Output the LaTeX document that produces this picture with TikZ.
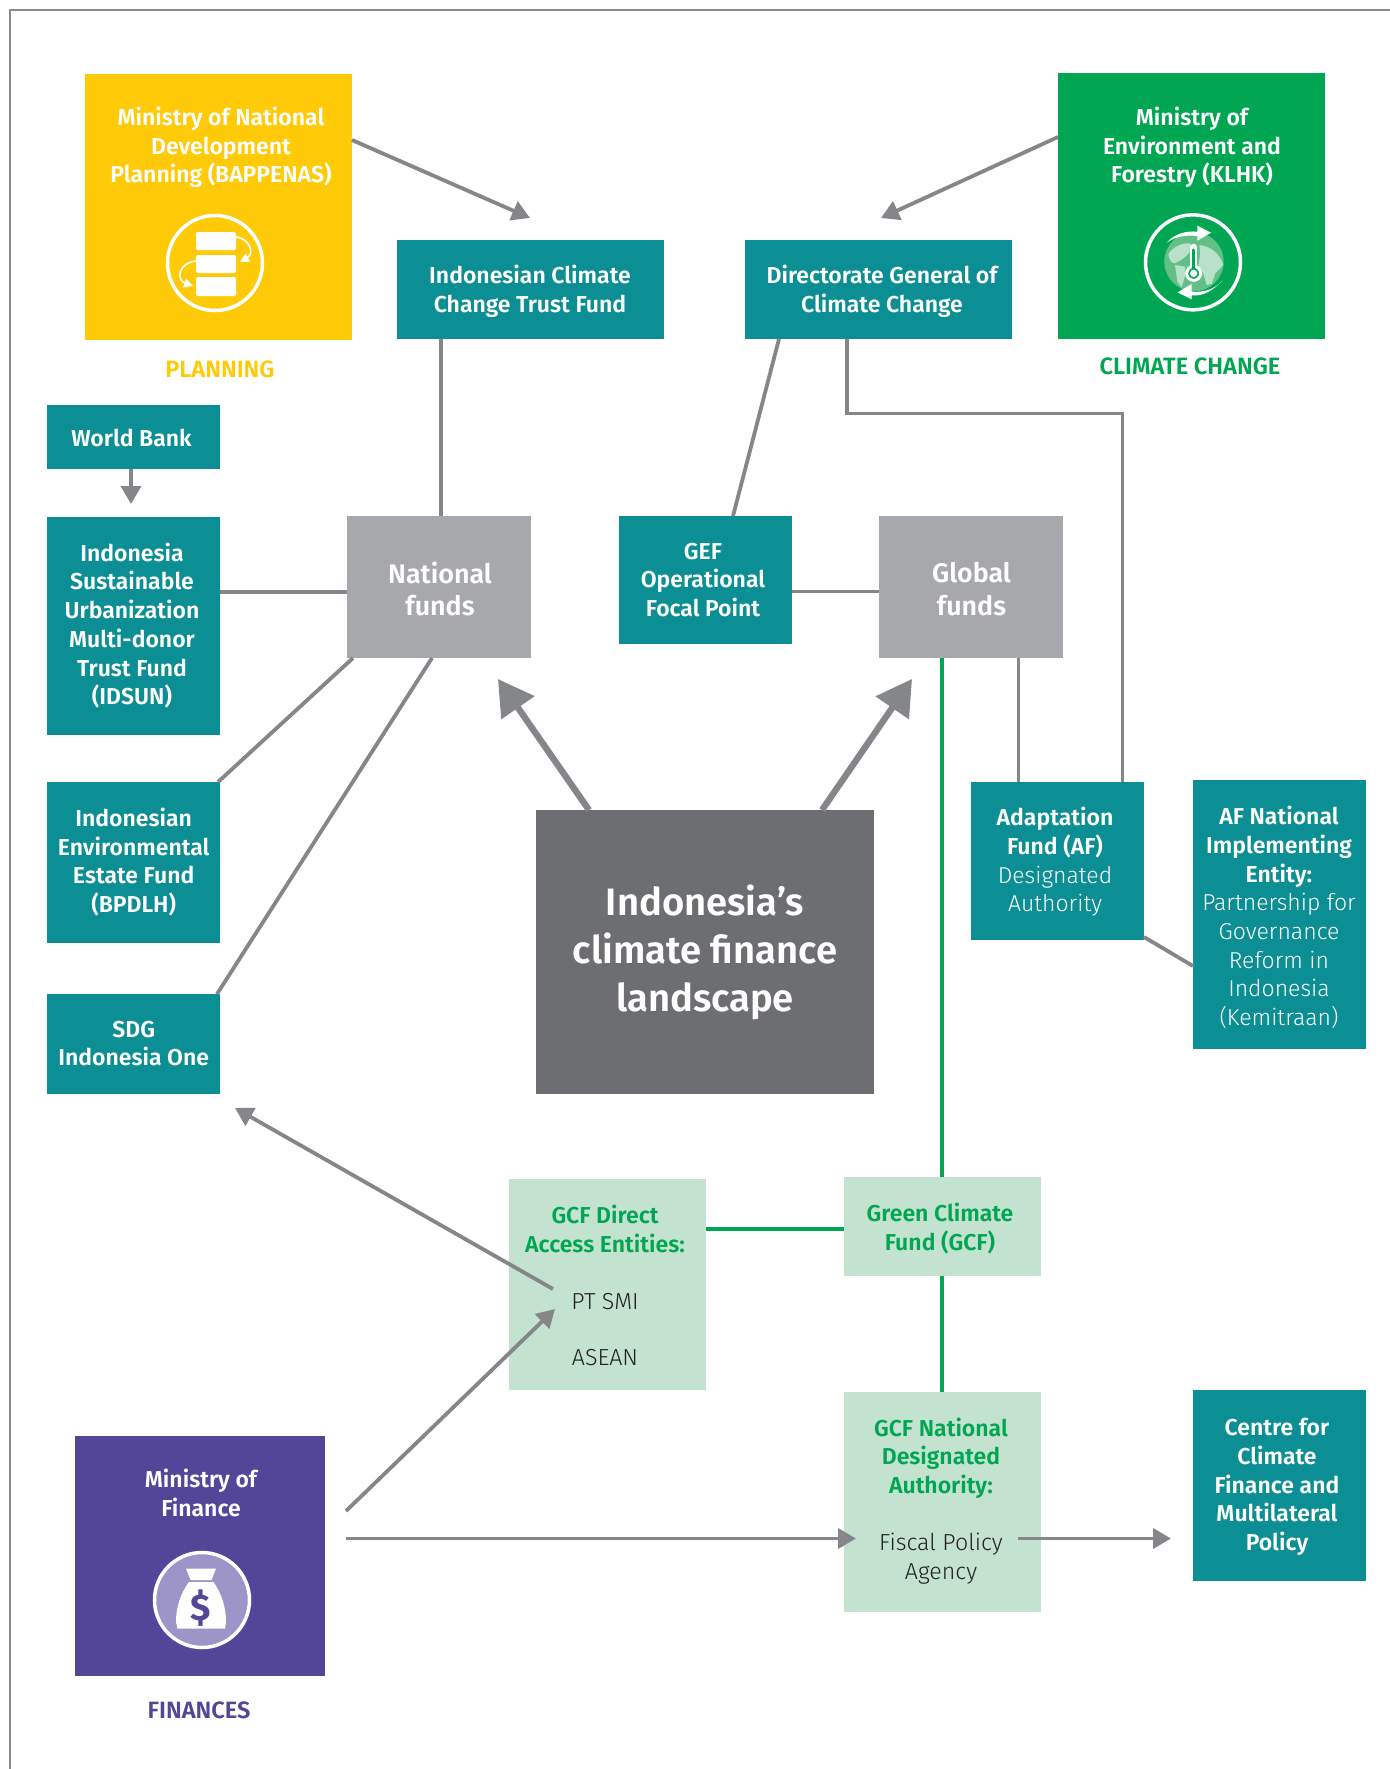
\documentclass[tikz,border=0pt]{standalone}
\usepackage{fontspec}
\setmainfont{Fira Sans}
\newfontfamily\fsb{Fira Sans SemiBold}
\newfontfamily\fsl{Fira Sans Light}
\usetikzlibrary{arrows.meta,calc}
\definecolor{yel}{HTML}{FFCB08}
\definecolor{grn}{HTML}{00A651}
\definecolor{pur}{HTML}{534699}
\definecolor{lav}{HTML}{9D94C8}
\definecolor{teal}{HTML}{0B8F94}
\definecolor{gbox}{HTML}{A7A8AB}
\definecolor{dbox}{HTML}{6D6E71}
\definecolor{cnc}{HTML}{85868A}
\definecolor{lgrn}{HTML}{C3E2D0}
\definecolor{frm}{HTML}{8A8A8A}
\definecolor{ink}{HTML}{231F20}
\definecolor{globe}{HTML}{62BF88}
\definecolor{land}{HTML}{B8E1C9}
\tikzset{
  x=0.5pt,y=-0.5pt,
  bx/.style={rectangle,inner sep=0pt,outer sep=0pt,draw=none},
  tl/.style={align=center,inner sep=0pt,outer sep=0pt,text=white,font=\fsb\fontsize{11.5}{14.35}\selectfont},
  tlg/.style={tl,text=grn},
  tb/.style={align=center,inner sep=0pt,outer sep=0pt,text=ink,font=\fsl\fontsize{11.6}{14.35}\selectfont},
  captxt/.style={inner sep=0pt,outer sep=0pt,font=\fsb\fontsize{11.8}{14}\selectfont},
  cn/.style={draw=cnc,line width=1.9pt},
  gl/.style={draw=grn,line width=1.9pt},
  ar/.style={cn,-{Triangle[length=9pt,width=10pt]}},
  big/.style={draw=cnc,line width=3.2pt,-{Triangle[length=17.5pt,width=19.5pt]}},
  ic/.style={draw=white,line width=1.75pt},
}
\newcommand{\bxn}[6]{%
  \pgfmathsetmacro{\bw}{(#5-#3)*0.5}\pgfmathsetmacro{\bh}{(#6-#4)*0.5}%
  \pgfmathsetmacro{\bcx}{(#3+#5)/2}\pgfmathsetmacro{\bcy}{(#4+#6)/2}%
  \node[bx,fill=#1,minimum width=\bw pt,minimum height=\bh pt] (#2) at (\bcx,\bcy) {};}
\begin{document}
\begin{tikzpicture}
\useasboundingbox (0,0) rectangle (1390,1769);
\fill[white] (0,0) rectangle (1390,1769);
% frame
\coordinate (frameA) at (10,1769);\coordinate (frameB) at (10,10);\coordinate (frameC) at (1390,10);
\draw[draw=frm,line width=1pt] (frameA) -- (frameB) -- (frameC);
% boxes
\bxn{yel}{yelb}{85}{74}{352}{340}
\bxn{grn}{grnb}{1058}{73}{1325}{339}
\bxn{pur}{purb}{75}{1436}{325}{1676}
\bxn{teal}{ictf}{397}{240}{664}{339}
\bxn{teal}{dgcc}{745}{240}{1012}{339}
\bxn{teal}{wb}{47}{405}{220}{469}
\bxn{teal}{idsun}{47}{517}{220}{735}
\bxn{gbox}{natf}{347}{516}{531}{658}
\bxn{teal}{gef}{619}{516}{792}{644}
\bxn{gbox}{glof}{879}{516}{1063}{658}
\bxn{teal}{bpdlh}{47}{782}{220}{943}
\bxn{teal}{sdg}{47}{994}{220}{1094}
\bxn{teal}{adapt}{971}{782}{1144}{940}
\bxn{teal}{nie}{1193}{780}{1366}{1049}
\bxn{dbox}{core}{536}{810}{874}{1094}
\bxn{lgrn}{dae}{509}{1179}{706}{1390}
\bxn{lgrn}{gcf}{844}{1177}{1041}{1276}
\bxn{lgrn}{nda}{844}{1392}{1041}{1612}
\bxn{teal}{ccf}{1193}{1390}{1366}{1581}
% helper coordinates fixing where connectors meet the box edges
\coordinate (xa) at (441,0);\coordinate (xb) at (779,0);\coordinate (xc) at (733,0);
\coordinate (xd) at (847,0);\coordinate (xe) at (1122.5,0);\coordinate (xf) at (1018.5,0);
\coordinate (xg) at (942,0);\coordinate (xh) at (353,0);\coordinate (xi) at (218,0);
\coordinate (xj) at (432,0);\coordinate (xk) at (217,0);\coordinate (xl) at (589,0);
\coordinate (xm) at (822,0);
\coordinate (ya) at (0,592);\coordinate (yb) at (0,591.5);\coordinate (yc) at (0,1229);
\coordinate (yd) at (0,140);\coordinate (ye) at (0,137);\coordinate (yf) at (0,937);\coordinate (yg) at (0,966);
\coordinate (bendA) at (847,413.5);\coordinate (bendB) at (1122.5,413.5);
% connectors
\draw[cn] (ictf.south -| xa) -- (natf.north -| xa);
\draw[cn] (dgcc.south -| xb) -- (gef.north -| xc);
\draw[cn] (dgcc.south -| xd) -- (bendA) -- (bendB) -- (adapt.north -| xe);
\draw[cn] (glof.south -| xf) -- (adapt.north -| xf);
\draw[cn] (idsun.east |- ya) -- (natf.west |- ya);
\draw[cn] (gef.east |- yb) -- (glof.west |- yb);
\draw[cn] (natf.south -| xh) -- (bpdlh.north -| xi);
\draw[cn] (natf.south -| xj) -- (sdg.north -| xk);
\draw[cn] (adapt.east |- yf) -- (nie.west |- yg);
\draw[gl] (glof.south -| xg) -- (gcf.north -| xg);
\draw[gl] (gcf.south -| xg) -- (nda.north -| xg);
\draw[gl] (dae.east |- yc) -- (gcf.west |- yc);
% arrows
\coordinate (t1) at (530,218);\coordinate (t2) at (881,218);\coordinate (t3) at (131,504);
\coordinate (t4) at (498,679);\coordinate (t5) at (912,679);\coordinate (t6) at (235,1108);
\coordinate (s6) at (553,1289);\coordinate (s7) at (346,1511);\coordinate (t7) at (555,1309);
\coordinate (s8) at (346,1538.5);\coordinate (t8) at (856,1538.5);
\coordinate (s9) at (1018,1538.5);\coordinate (t9) at (1171,1538.5);
\draw[ar] (yelb.east |- yd) -- (t1);
\draw[ar] (grnb.west |- ye) -- (t2);
\draw[ar] (wb.south -| t3) -- (t3);
\draw[big] (core.north -| xl) -- (t4);
\draw[big] (core.north -| xm) -- (t5);
\draw[ar] (s6) -- (t6);
\draw[ar] (s7) -- (t7);
\draw[ar] (s8) -- (t8);
\draw[ar] (s9) -- (t9);
% texts
\node[tl] (yelt) at (221,147.5) {Ministry of National\\Development\\Planning (BAPPENAS)};
\node[tl] (grnt) at (1192,147.5) {Ministry of\\Environment and\\Forestry (KLHK)};
\node[tl] (purt) at (201,1493) {Ministry of\\Finance};
\node[captxt,text=yel] (capy) at (220,369) {PLANNING};
\node[captxt,text=grn] (capg) at (1190,366) {CLIMATE CHANGE};
\node[captxt,text=pur] (capp) at (199,1710) {FINANCES};
\node[tl] (ictft) at (530,291) {Indonesian Climate\\Change Trust Fund};
\node[tl] (dgcct) at (882,291) {Directorate General of\\Climate Change};
\node[tl] (wbt) at (131.5,437.6) {World Bank};
\node[tl] (idsunt) at (132,625.5) {Indonesia\\Sustainable\\Urbanization\\Multi-donor\\Trust Fund\\(IDSUN)};
\node[tl,font=\fsb\fontsize{13.4}{16.4}\selectfont] (natt) at (440,589) {National\\funds};
\node[tl] (geft) at (703,580) {GEF\\Operational\\Focal Point};
\node[tl,font=\fsb\fontsize{13.4}{16.4}\selectfont] (glot) at (971.5,589) {Global\\funds};
\node[tl] (bpdlht) at (133.7,862) {Indonesian\\Environmental\\Estate Fund\\(BPDLH)};
\node[tl] (sdgt) at (133.7,1043.6) {SDG\\Indonesia One};
\node[tl,font=\fsb\fontsize{19.1}{24}\selectfont] (coret) at (705,952) {Indonesia’s\\climate finance\\landscape};
\node[tl] (adaptt) at (1055,862) {Adaptation\\Fund (AF)\\{\fsl Designated}\\{\fsl Authority}};
\node[tl] (niet) at (1279,917.5) {AF National\\Implementing\\Entity:\\{\fsl Partnership for}\\{\fsl Governance}\\{\fsl Reform in}\\{\fsl Indonesia}\\{\fsl (Kemitraan)}};
\node[tlg] (daet) at (605,1229) {GCF Direct\\Access Entities:};
\node[tb] (ptsmi) at (605,1301.5) {PT SMI};
\node[tb] (asean) at (605,1358) {ASEAN};
\node[tlg] (gcft) at (940,1228.5) {Green Climate\\Fund (GCF)};
\node[tlg] (ndat) at (941,1458) {GCF National\\Designated\\Authority:};
\node[tb] (fpa) at (941,1558.5) {Fiscal Policy\\Agency};
\node[tl] (ccft) at (1277,1487) {Centre for\\Climate\\Finance and\\Multilateral\\Policy};
% planning icon
\draw[ic] (215,263) circle (47.5);
\fill[white,rounded corners=1pt] (196,232) rectangle (236,250);
\fill[white,rounded corners=1pt] (196,255) rectangle (236,273);
\fill[white,rounded corners=1pt] (196,277) rectangle (236,296);
\draw[draw=white,line width=0.8pt,-{Triangle[length=4.5pt,width=4.5pt]}] (236,237) .. controls (251,239) and (254,254) .. (240,262);
\draw[draw=white,line width=0.8pt,-{Triangle[length=4.5pt,width=4.5pt]}] (196,261) .. controls (178,263) and (176,280) .. (193,286);
% climate icon (drawn in the coordinates of a 3x crop)
\begin{scope}[shift={(1140,210)},x=0.16667pt,y=-0.16667pt]
\draw[draw=white,line width=1.75pt] (159,157) circle (142.5);
\fill[globe] (162,155) circle (89);
\fill[land] (85,132) .. controls (100,108) and (130,98) .. (152,100) -- (150,125) .. controls (140,140) and (125,150) .. (105,160) .. controls (95,160) and (88,152) .. (85,132) -- cycle;
\fill[land] (105,165) -- (135,170) -- (136,195) -- (125,232) -- (112,215) -- cycle;
\fill[land] (178,105) .. controls (210,108) and (240,130) .. (250,165) -- (226,190) -- (215,222) -- (200,225) -- (190,190) -- (175,165) -- (180,135) -- cycle;
\draw[draw=white,line width=3.6pt,line cap=round] (161,112) -- (161,185);
\draw[draw=white,line width=1.5pt,fill=grn] (161,190) circle (21);
\draw[draw=grn,line width=1.6pt,line cap=round] (161,120) -- (161,180);
\fill[white] (161,190) circle (11);
\fill[white] (80,98) .. controls (105,70) and (140,62) .. (172,65) -- (172,47) -- (213,68) -- (172,92) -- (172,78) .. controls (135,74) and (105,80) .. (80,98) -- cycle;
\fill[white] (247,212) .. controls (222,240) and (187,248) .. (155,245) -- (155,222) -- (113,247) -- (155,268) -- (155,256) .. controls (192,260) and (222,238) .. (247,212) -- cycle;
\end{scope}
% finance icon
\draw[draw=white,fill=lav,line width=1.75pt] (202,1600) circle (47.5);
\fill[white] (186,1568.5) -- (216,1568.5) -- (211.5,1580) -- (190.5,1580) -- cycle;
\fill[white] (189,1582) -- (213.5,1582) .. controls (222,1594) and (226,1608) .. (226,1622) -- (225,1628.5) -- (177.5,1628.5) -- (176,1622) .. controls (176,1608) and (180,1594) .. (189,1582) -- cycle;
\node[inner sep=0pt,outer sep=0pt,text=pur,font=\bfseries\fontsize{18.5}{18.5}\selectfont] (dollar) at (201,1608) {\$};
\end{tikzpicture}
\end{document}
